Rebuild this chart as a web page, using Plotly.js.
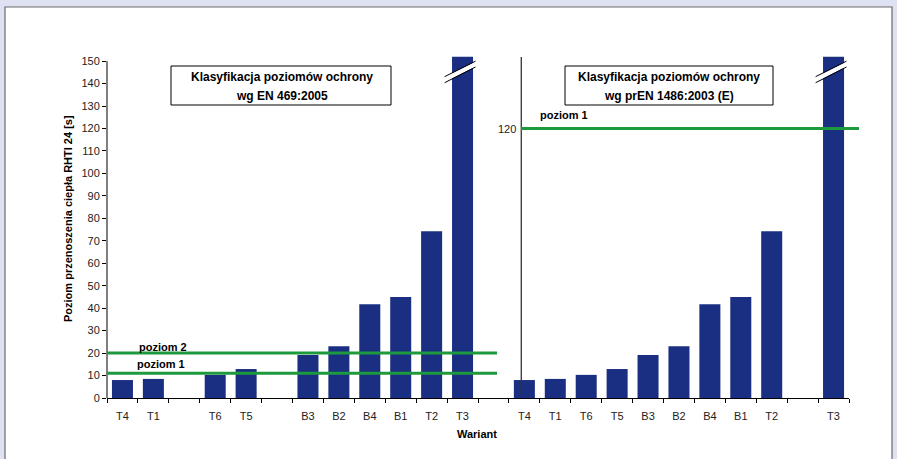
<!DOCTYPE html>
<html>
<head>
<meta charset="utf-8">
<script src="https://cdn.plot.ly/plotly-3.0.1.min.js"></script>
<style>
  html, body { margin: 0; padding: 0; background: #dde1f1; }
  #chart { width: 897px; height: 459px; }
</style>
</head>
<body>
<div id="chart"></div>
<script>
// ---- data ----
const leftCategories  = ['T4', 'T1', 'T6', 'T5', 'B3', 'B2', 'B4', 'B1', 'T2', 'T3'];
const leftValues      = [8.0, 8.5, 10.3, 12.9, 19.1, 23.1, 41.8, 45.0, 74.3, 152];
const leftGapsAfter   = ['T1', 'T5'];
const rightCategories = ['T4', 'T1', 'T6', 'T5', 'B3', 'B2', 'B4', 'B1', 'T2', 'T3'];
const rightValues     = [8.0, 8.5, 10.3, 12.9, 19.1, 23.1, 41.8, 45.0, 74.3, 152];
const rightGapsAfter  = ['T2'];
const leftLevelNames  = ['poziom 1', 'poziom 2'];
const leftLevelValues = [11, 20];
const rightLevelNames = ['poziom 1'];
const rightLevelValues = [120];
const leftBoxText  = ['Klasyfikacja poziomów ochrony', 'wg EN 469:2005'];
const rightBoxText = ['Klasyfikacja poziomów ochrony', 'wg prEN 1486:2003 (E)'];
const yTitle = 'Poziom przenoszenia ciepła RHTI 24 [s]';
const xTitle = 'Wariant';
const yTicks = [0, 10, 20, 30, 40, 50, 60, 70, 80, 90, 100, 110, 120, 130, 140, 150];

// ---- build slot layout ----
const slots = [];
const leftX = [], rightX = [];
leftCategories.forEach(c => { leftX.push(slots.length); slots.push(c); if (leftGapsAfter.includes(c)) slots.push(''); });
slots.push('');
rightCategories.forEach(c => { rightX.push(slots.length); slots.push(c); if (rightGapsAfter.includes(c)) slots.push(''); });
const nSlots = slots.length;
const tickVals = [], tickText = [];
slots.forEach((s, i) => { if (s) { tickVals.push(i); tickText.push(s); } });

const FONT = 'Liberation Sans, Arial, sans-serif';
const BAR = '#1b2f82';
const GREEN = '#1e9a3e';
const YMAX = 152.3;

// pixel helpers for layout geometry (plot area: l=107, w=742, t=56, h=342)
const L = 107, W = 742, T = 56, H = 342;
const px = x => (x - L) / W;
const py = y => (T + H - y) / H;

const traces = [
  { type: 'bar', x: leftX, y: leftValues, width: 0.68, marker: { color: BAR }, hoverinfo: 'y', showlegend: false },
  { type: 'bar', x: rightX, y: rightValues, width: 0.68, marker: { color: BAR }, hoverinfo: 'y', showlegend: false }
];

const shapes = [];
// white panel
shapes.push({ type: 'rect', xref: 'paper', yref: 'paper', x0: px(5), x1: px(892), y0: py(475), y1: py(7),
  fillcolor: '#ffffff', line: { color: '#6a6a6a', width: 1.2 }, layer: 'below' });
// y axis line (0..150)
shapes.push({ type: 'line', xref: 'paper', yref: 'y', x0: 0, x1: 0, y0: 0, y1: 150, line: { color: '#000', width: 1 } });
// right separating axis
shapes.push({ type: 'line', xref: 'x', yref: 'paper', x0: 12.9, x1: 12.9, y0: py(395), y1: py(57), line: { color: '#333', width: 1.3 } });
// level lines
leftLevelValues.forEach(v => shapes.push({ type: 'line', xref: 'paper', yref: 'y', x0: 0, x1: px(497), y0: v, y1: v, line: { color: GREEN, width: 3 }, layer: 'above' }));
rightLevelValues.forEach(v => shapes.push({ type: 'line', xref: 'paper', yref: 'y', x0: px(521), x1: px(859), y0: v, y1: v, line: { color: GREEN, width: 3 }, layer: 'above' }));
// break marks on the tallest bars
[leftX[leftX.length - 1], rightX[rightX.length - 1]].forEach(xc => {
  const a = xc - 0.58, b = xc + 0.42;
  shapes.push({ type: 'path', xref: 'x', yref: 'y',
    path: `M ${a},140.6 L ${b},147.6 L ${b},149.8 L ${a},142.9 Z`,
    fillcolor: '#ffffff', line: { width: 0 }, layer: 'above' });
  shapes.push({ type: 'line', xref: 'x', yref: 'y', x0: a, y0: 140.4, x1: b, y1: 147.4, line: { color: '#000', width: 1 }, layer: 'above' });
  shapes.push({ type: 'line', xref: 'x', yref: 'y', x0: a, y0: 143.1, x1: b, y1: 150.0, line: { color: '#000', width: 1 }, layer: 'above' });
});
// classification boxes
shapes.push({ type: 'rect', xref: 'paper', yref: 'paper', x0: px(171), x1: px(391), y0: py(105), y1: py(66), fillcolor: '#fff', line: { color: '#000', width: 1 }, layer: 'above' });
shapes.push({ type: 'rect', xref: 'paper', yref: 'paper', x0: px(565), x1: px(773), y0: py(105), y1: py(66), fillcolor: '#fff', line: { color: '#000', width: 1 }, layer: 'above' });

const boldFont = { family: FONT, size: 12, color: '#000', weight: 'bold' };
const annotations = [];
leftBoxText.forEach((t, i) => annotations.push({ xref: 'paper', yref: 'paper', x: px(282), y: py(77 + 19 * i), text: '<b>' + t + '</b>', showarrow: false, xanchor: 'center', yanchor: 'middle', font: boldFont }));
rightBoxText.forEach((t, i) => annotations.push({ xref: 'paper', yref: 'paper', x: px(669), y: py(77 + 19 * i), text: '<b>' + t + '</b>', showarrow: false, xanchor: 'center', yanchor: 'middle', font: boldFont }));
// level labels
const lvlFont = { family: FONT, size: 11, color: '#000' };
const leftLabelPos = [[135, 364], [137, 347]];
leftLevelNames.forEach((n, i) => annotations.push({ xref: 'paper', yref: 'paper', x: px(leftLabelPos[i][0]), y: py(leftLabelPos[i][1]), text: '<b>' + n + '</b>', showarrow: false, xanchor: 'left', yanchor: 'middle', font: lvlFont }));
rightLevelNames.forEach(n => annotations.push({ xref: 'paper', yref: 'paper', x: px(538), y: py(115), text: '<b>' + n + '</b>', showarrow: false, xanchor: 'left', yanchor: 'middle', font: lvlFont }));
rightLevelValues.forEach(v => annotations.push({ xref: 'paper', yref: 'y', x: px(518), y: v, text: String(v), showarrow: false, xanchor: 'right', yanchor: 'middle', font: { family: FONT, size: 11, color: '#222' } }));
// axis titles
annotations.push({ xref: 'paper', yref: 'paper', x: px(68), y: py(219), text: '<b>' + yTitle + '</b>', textangle: -90, showarrow: false, xanchor: 'center', yanchor: 'middle', font: { family: FONT, size: 11, color: '#000' } });
annotations.push({ xref: 'paper', yref: 'paper', x: px(499), y: py(434), text: '<b>' + xTitle + '</b>', showarrow: false, xanchor: 'right', yanchor: 'middle', font: { family: FONT, size: 11, color: '#000' } });

const layout = {
  width: 897, height: 459,
  margin: { l: L, r: 897 - L - W, t: T, b: 459 - T - H, pad: 0 },
  paper_bgcolor: '#dde1f1',
  plot_bgcolor: 'rgba(0,0,0,0)',
  barmode: 'overlay',
  showlegend: false,
  font: { family: FONT, size: 11, color: '#222' },
  xaxis: {
    range: [-0.5, nSlots - 0.5], tickmode: 'array', tickvals: tickVals, ticktext: tickText,
    ticks: 'outside', ticklen: 8, tickcolor: 'rgba(0,0,0,0)',
    minor: { tickmode: 'linear', tick0: -0.5, dtick: 1, ticks: 'outside', ticklen: 4, tickcolor: '#000', tickwidth: 1 },
    showline: true, linecolor: '#000', linewidth: 1, showgrid: false, zeroline: false, fixedrange: true,
    tickfont: { family: FONT, size: 11, color: '#222' }
  },
  yaxis: {
    range: [0, YMAX], tickmode: 'array', tickvals: yTicks,
    ticks: 'outside', ticklen: 4, tickcolor: '#000', showline: false, showgrid: false, zeroline: false, fixedrange: true,
    tickfont: { family: FONT, size: 11, color: '#222' }
  },
  shapes: shapes,
  annotations: annotations
};

Plotly.newPlot('chart', traces, layout, { displayModeBar: false, staticPlot: true });
</script>
</body>
</html>
